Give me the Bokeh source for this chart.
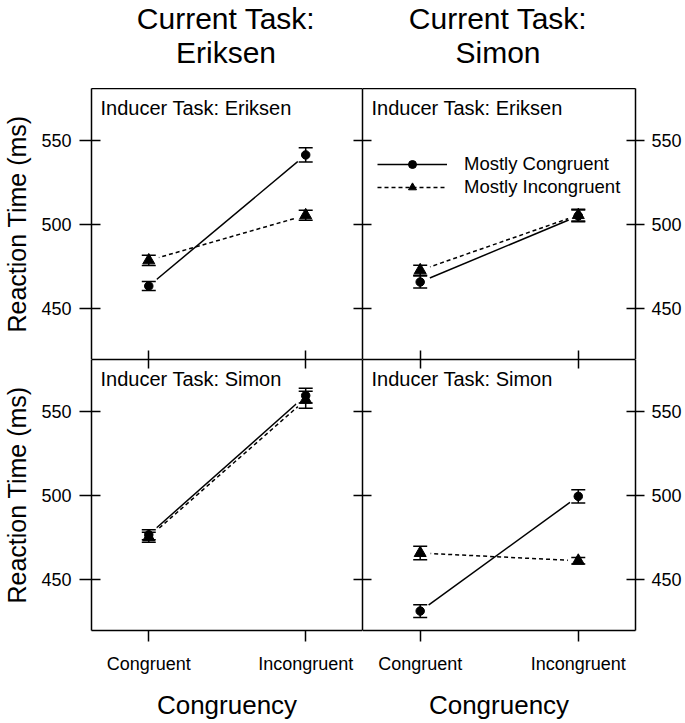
from bokeh.plotting import figure
from bokeh.models import (ColumnDataSource, LinearAxis, FixedTicker, Range1d, Whisker,
                          TeeHead, Label, Legend, LegendItem)
from bokeh.layouts import gridplot, column
from bokeh.embed import file_html
from bokeh.resources import INLINE

# ---------------- data ----------------
conditions = ["Congruent", "Incongruent"]
cond_x = [1, 2]
y_ticks = [450, 500, 550]
series_names = ["Mostly Congruent", "Mostly Incongruent"]
current_tasks = ["Eriksen", "Simon"]

# Current task: Eriksen, inducer task: Eriksen
mc_curE_indE = [463.2, 541.4]
mc_curE_indE_err = [2.7, 4.2]
mi_curE_indE = [478.5, 505.4]
mi_curE_indE_err = [3.0, 3.0]

# Current task: Simon, inducer task: Eriksen
mc_curS_indE = [465.6, 505.0]
mc_curS_indE_err = [3.6, 3.5]
mi_curS_indE = [472.6, 505.5]
mi_curS_indE_err = [3.0, 3.5]

# Current task: Eriksen, inducer task: Simon
mc_curE_indS = [476.5, 559.5]
mc_curE_indS_err = [3.0, 4.4]
mi_curE_indS = [475.0, 557.0]
mi_curE_indS_err = [3.0, 5.0]

# Current task: Simon, inducer task: Simon
mc_curS_indS = [431.0, 499.4]
mc_curS_indS_err = [3.8, 4.0]
mi_curS_indS = [465.6, 461.0]
mi_curS_indS_err = [4.0, 2.0]

FONT = "Liberation Sans"
LW = 1.5


def y_axis(p, side, labels, tin, tout, axis_label=None):
    ax = LinearAxis(ticker=FixedTicker(ticks=y_ticks),
                    major_tick_in=tin, major_tick_out=tout,
                    minor_tick_in=0, minor_tick_out=0,
                    major_tick_line_width=LW, major_tick_line_color="black",
                    axis_line_width=LW, axis_line_color="black")
    if labels:
        ax.major_label_text_font = FONT
        ax.major_label_text_font_size = "18px"
        ax.major_label_text_color = "black"
        ax.major_label_standoff = 8 if side == "left" else 7
    else:
        ax.major_label_text_font_size = "0px"
        ax.major_label_standoff = 0
        ax.major_label_overrides = {t: "" for t in y_ticks}
    if axis_label:
        ax.axis_label = axis_label
        ax.axis_label_text_font = FONT
        ax.axis_label_text_font_size = "25px"
        ax.axis_label_text_font_style = "normal"
        ax.axis_label_text_color = "black"
        ax.axis_label_standoff = 7
    p.add_layout(ax, side)


def x_axis(p, side, labels, tin, tout, ticks=True, axis_label=None):
    ax = LinearAxis(ticker=FixedTicker(ticks=cond_x if ticks else []),
                    major_tick_in=tin, major_tick_out=tout,
                    minor_tick_in=0, minor_tick_out=0,
                    major_tick_line_width=LW, major_tick_line_color="black",
                    axis_line_width=LW, axis_line_color="black")
    if labels:
        ax.major_label_overrides = {x: c for x, c in zip(cond_x, conditions)}
        ax.major_label_text_font = FONT
        ax.major_label_text_font_size = "18px"
        ax.major_label_text_color = "black"
        ax.major_label_standoff = 12
    else:
        ax.major_label_text_font_size = "0px"
        ax.major_label_standoff = 0
        ax.major_label_overrides = {x: "" for x in cond_x}
    if axis_label:
        ax.axis_label = axis_label
        ax.axis_label_text_font = FONT
        ax.axis_label_text_font_size = "26px"
        ax.axis_label_text_font_style = "normal"
        ax.axis_label_text_color = "black"
        ax.axis_label_standoff = 13
    p.add_layout(ax, side)


def panel(fw, fh, inducer, mc, mc_err, mi, mi_err):
    p = figure(frame_width=fw, frame_height=fh,
               x_range=Range1d(0.635, 2.362), y_range=Range1d(419.4, 581.0),
               output_backend="svg", toolbar_location=None,
               x_axis_location=None, y_axis_location=None,
               min_border=0, outline_line_color=None,
               background_fill_color="white", border_fill_color="white")
    p.center = []
    src_mc = ColumnDataSource(dict(x=cond_x, y=mc,
                                   lo=[m - e for m, e in zip(mc, mc_err)],
                                   hi=[m + e for m, e in zip(mc, mc_err)]))
    src_mi = ColumnDataSource(dict(x=cond_x, y=mi,
                                   lo=[m - e for m, e in zip(mi, mi_err)],
                                   hi=[m + e for m, e in zip(mi, mi_err)]))
    l_mc = p.line("x", "y", source=src_mc, line_color="black", line_width=LW)
    l_mi = p.line("x", "y", source=src_mi, line_color="black", line_width=LW,
                  line_dash="4 3")
    # gaps around the points (as in R type = "b")
    p.scatter("x", "y", source=src_mc, marker="circle", size=21,
              fill_color="white", line_color=None)
    p.scatter("x", "y", source=src_mi, marker="circle", size=21,
              fill_color="white", line_color=None)
    for src in (src_mc, src_mi):
        p.add_layout(Whisker(source=src, base="x", lower="lo", upper="hi",
                             dimension="height", level="annotation",
                             line_color="black", line_width=LW,
                             lower_head=TeeHead(size=14, line_width=LW, line_color="black"),
                             upper_head=TeeHead(size=14, line_width=LW, line_color="black")))
    s_mc = p.scatter("x", "y", source=src_mc, marker="circle", size=8.5,
                     fill_color="black", line_color="black", line_width=1)
    s_mi = p.scatter("x", "y", source=src_mi, marker="triangle", size=12,
                     fill_color="black", line_color="black", line_width=1)
    p.add_layout(Label(x=9, y=fh - 19, x_units="screen", y_units="screen",
                       text="Inducer Task: " + inducer, text_font=FONT,
                       text_font_size="20px", text_color="black",
                       text_baseline="alphabetic"))
    return p, (l_mc, s_mc), (l_mi, s_mi)


W_L, W_R, H_T, H_B = 271, 273, 271, 271
LEFT, RIGHT, HEAD, BOTTOM = 90, 50, 88, 92

tl, _, _ = panel(W_L, H_T, "Eriksen", mc_curE_indE, mc_curE_indE_err,
                 mi_curE_indE, mi_curE_indE_err)
tr, leg_mc, leg_mi = panel(W_R, H_T, "Eriksen", mc_curS_indE, mc_curS_indE_err,
                           mi_curS_indE, mi_curS_indE_err)
bl, _, _ = panel(W_L, H_B, "Simon", mc_curE_indS, mc_curE_indS_err,
                 mi_curE_indS, mi_curE_indS_err)
br, _, _ = panel(W_R, H_B, "Simon", mc_curS_indS, mc_curS_indS_err,
                 mi_curS_indS, mi_curS_indS_err)

# top-left
y_axis(tl, "left", True, 9, 12, "Reaction Time (ms)")
y_axis(tl, "right", False, 9, 0)
x_axis(tl, "below", False, 9, 0)
x_axis(tl, "above", False, 0, 0, ticks=False)
# top-right
y_axis(tr, "left", False, 9, 0)
y_axis(tr, "right", True, 9, 9)
x_axis(tr, "below", False, 9, 0)
x_axis(tr, "above", False, 0, 0, ticks=False)
# bottom-left
y_axis(bl, "left", True, 9, 12, "Reaction Time (ms)")
y_axis(bl, "right", False, 9, 0)
x_axis(bl, "above", False, 9, 0)
x_axis(bl, "below", True, 0, 11, axis_label="Congruency")
# bottom-right
y_axis(br, "left", False, 9, 0)
y_axis(br, "right", True, 9, 9)
x_axis(br, "above", False, 9, 0)
x_axis(br, "below", True, 0, 11, axis_label="Congruency")

legend = Legend(items=[LegendItem(label=series_names[0], renderers=list(leg_mc)),
                       LegendItem(label=series_names[1], renderers=list(leg_mi))],
                location=(15, 161), padding=0, margin=0, spacing=1,
                glyph_width=70, glyph_height=20, label_standoff=17,
                label_text_font=FONT, label_text_font_size="18.5px",
                label_text_color="black",
                border_line_color=None, background_fill_alpha=0)
tr.add_layout(legend)

tl.min_border_left = LEFT
bl.min_border_left = LEFT
tr.min_border_right = RIGHT
br.min_border_right = RIGHT
bl.min_border_bottom = BOTTOM
br.min_border_bottom = BOTTOM

# header strip with the column titles
head = figure(frame_width=W_L + W_R, frame_height=HEAD,
              x_range=Range1d(0, W_L + W_R), y_range=Range1d(0, HEAD),
              output_backend="svg", toolbar_location=None,
              x_axis_location=None, y_axis_location=None,
              min_border=0, min_border_left=LEFT, min_border_right=RIGHT,
              outline_line_color=None, background_fill_color="white",
              border_fill_color="white")
head.center = []
for i, task in enumerate(current_tasks):
    cx = W_L / 2 if i == 0 else W_L + W_R / 2
    head.add_layout(Label(x=cx, y=70, text="Current Task:",
                          text_align="center", text_baseline="alphabetic",
                          text_font=FONT, text_font_size="30px", text_color="black"))
    head.add_layout(Label(x=cx, y=36.5, text=task,
                          text_align="center", text_baseline="alphabetic",
                          text_font=FONT, text_font_size="30px", text_color="black"))

grid = gridplot([[tl, tr], [bl, br]], toolbar_location=None)
page = column(head, grid)

open("out.html", "w").write(file_html(page, INLINE))
